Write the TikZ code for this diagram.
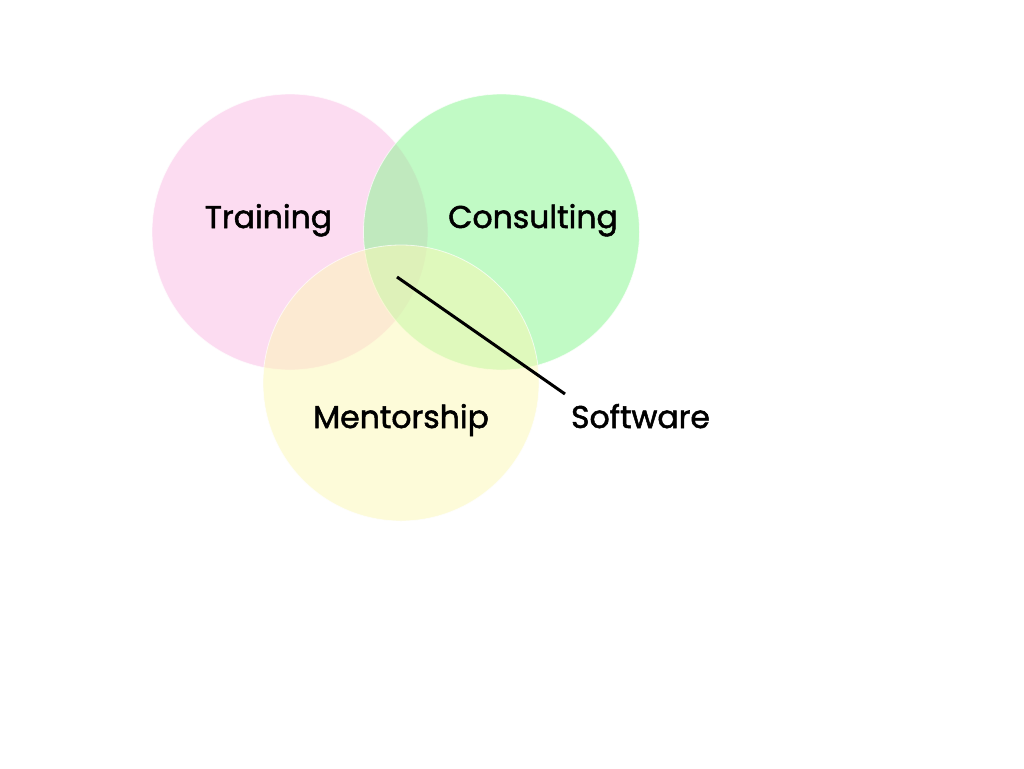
\documentclass[tikz,border=0pt]{standalone}
\usepackage{fontspec}
\setmainfont{Poppins}
\newfontfamily\lblfont{Poppins}[FakeBold=1.6]
\definecolor{pinkc}{RGB}{251,187,229}
\definecolor{greenc}{RGB}{133,247,141}
\definecolor{yellowc}{RGB}{253,249,181}
\begin{document}
\begin{tikzpicture}[x=1pt,y=-1pt,
  venn/.style={circle,minimum size=276pt,inner sep=0pt,fill opacity=0.5,draw=white,draw opacity=0.7,line width=0.8pt},
  lbl/.style={anchor=base,font=\lblfont\fontsize{31.5}{36}\selectfont,inner sep=0pt},
  leader/.style={line width=3pt,black}]
\useasboundingbox[fill=white] (0,0) rectangle (1024,768);
\node[venn,fill=pinkc] (training) at (290,232) {};
\node[venn,fill=greenc] (consulting) at (501.5,232) {};
\node[venn,fill=yellowc] (mentorship) at (401,383) {};
\node[lbl] (tl) at (268.5,228) {Training};
\node[lbl] (cl) at (533,228) {Consulting};
\node[lbl] (ml) at (401,428) {Mentorship};
\node[lbl] (sl) at (640.5,428) {Software};
\coordinate (core) at (397,277);
\coordinate (swend) at (565,394);
\draw[leader] (core) -- (swend);
\end{tikzpicture}
\end{document}
